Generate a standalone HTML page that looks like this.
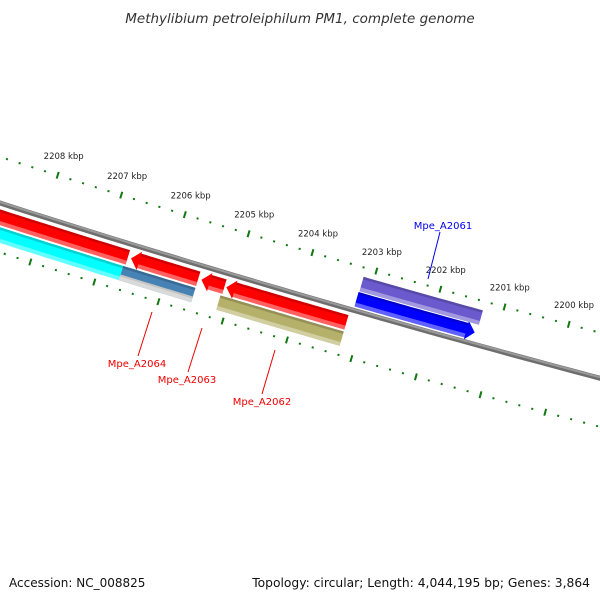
<!DOCTYPE html>
<html><head><meta charset="utf-8"><style>
html,body{margin:0;padding:0;background:#fff;}
svg{display:block;font-family:"DejaVu Sans","Liberation Sans",sans-serif;}
</style></head><body>
<svg id="map" width="600" height="600" viewBox="0 0 600 600">
<text x="300" y="23" text-anchor="middle" font-size="13.5" font-style="italic" fill="#333">Methylibium petroleiphilum PM1, complete genome</text>
<g id="ticks"></g>
<g id="backbone"></g>
<g id="features"></g>
<g id="labels"></g>
<text x="9" y="587" font-size="12" fill="#111">Accession: NC_008825</text>
<text x="590" y="587" text-anchor="end" font-size="12.3" fill="#111">Topology: circular; Length: 4,044,195 bp; Genes: 3,864</text>
</svg>
<script>
// feature data (kbp)
const featStart = [2210.5, 2206.58, 2205.48, 2205.09, 2205.14, 2206.66, 2210.5, 2203.17, 2203.16];
const featEnd   = [2206.63, 2205.53, 2205.12, 2203.22, 2203.22, 2205.53, 2206.66, 2201.33, 2201.30];
const featSlot  = [1, 1, 1, 1, 2, 2, 2, -1, -2];
const featColor = ['#ff0000','#ff0000','#ff0000','#ff0000','#b5b06a','#4682b4','#00ffff','#0000ff','#6a5acd'];
const featColor2= [null,null,null,null,null,'#c4c4c4',null,null,null];
const featArrow = ['start','start','start','start','none','none','none','end','none'];
const featNames = ['gene-a2065','gene-a2064','gene-a2063','gene-a2062','gene-a2062-cog','gene-a2064-cog','gene-a2065-cog','gene-a2061','gene-a2061-cog'];
const tickMajor = [2199,2200,2201,2202,2203,2204,2205,2206,2207,2208];
const tickLabels = ['2199 kbp','2200 kbp','2201 kbp','2202 kbp','2203 kbp','2204 kbp','2205 kbp','2206 kbp','2207 kbp','2208 kbp'];

const NS='http://www.w3.org/2000/svg';
const CX=3716, CY=-11413, R=12196;
function pt(r,p){const a=(105.01+(p-2200)*0.3138)*Math.PI/180;return [CX+r*Math.cos(a),CY+r*Math.sin(a)];}
function mk(tag,attrs,parent){const e=document.createElementNS(NS,tag);for(const k in attrs)e.setAttribute(k,attrs[k]);parent.appendChild(e);return e;}
function arcPts(r,p1,p2,n){const a=[];for(let i=0;i<=n;i++){a.push(pt(r,p1+(p2-p1)*i/n));}return a;}
function poly(pts){return 'M'+pts.map(q=>q[0].toFixed(2)+','+q[1].toFixed(2)).join('L')+'Z';}

// backbone
const bb=document.getElementById('backbone');
const bbp=arcPts(R,2212,2197,60);
const bbd='M'+bbp.map(q=>q[0].toFixed(1)+','+q[1].toFixed(1)).join('L');
let e=mk('path',{d:bbd,fill:'none',stroke:'#6e6e6e','stroke-width':5},bb);


e=mk('path',{d:bbd,fill:'none',stroke:'#9a9a9a','stroke-width':2,transform:'translate(0,-1)'},bb);



// ticks
const tg=document.getElementById('ticks');
const rings=[R-44,R+47];
for(const rr of rings){
  for(let k=0;k<=100;k++){
    const p=2212-k*0.2;
    const major=Math.abs(p-Math.round(p))<0.01;
    if(major){
      const a=pt(rr-3.5,p),b=pt(rr+3.5,p);
      e=mk('line',{x1:a[0],y1:a[1],x2:b[0],y2:b[1],stroke:'#117711','stroke-width':2},tg);
      
      
    } else {
      const a=pt(rr-1,p),b=pt(rr+1,p);
      e=mk('line',{x1:a[0],y1:a[1],x2:b[0],y2:b[1],stroke:'#117711','stroke-width':2},tg);
      
      
    }
  }
}
for(let i=0;i<tickMajor.length;i++){
  const q=pt(R-64,tickMajor[i]);
  e=mk('text',{x:q[0].toFixed(1),y:(q[1]+3).toFixed(1),'text-anchor':'middle','font-size':'8.5',fill:'#222'},tg);
  e.textContent=tickLabels[i];
  
  
}

// features
const fg=document.getElementById('features');
const slotIn={'-2':R-35,'-1':R-19,'1':R+6,'2':R+23};
const W=15, AH=0.13;
for(let i=0;i<featStart.length;i++){
  const rin=slotIn[featSlot[i]], rout=rin+W, rmid=rin+W/2;
  let s=featStart[i], en=featEnd[i];
  let bs=s, be=en;
  if(featArrow[i]==='start') bs=s-AH;
  if(featArrow[i]==='end') be=en+AH;
  let pts=arcPts(rin,bs,be,30);
  if(featArrow[i]==='end'){pts.push(pt(rin-2,be));pts.push(pt(rmid,en));pts.push(pt(rout+2,be));}
  pts=pts.concat(arcPts(rout,be,bs,30));
  if(featArrow[i]==='start'){pts.push(pt(rout+2,bs));pts.push(pt(rmid,s));pts.push(pt(rin-2,bs));}
  const g=mk('g',{},fg);
  
  
  e=mk('path',{d:poly(pts),fill:featColor[i]},g);
  
  
  if(featColor2[i]){
    const p2=arcPts(rin+9,bs,be,30).concat(arcPts(rout,be,bs,30));
    e=mk('path',{d:poly(p2),fill:featColor2[i]},g);
    
    
  }
  const top=arcPts(rin,bs,be,30).concat(arcPts(rin+2.5,be,bs,30));
  e=mk('path',{d:poly(top),fill:'#000','fill-opacity':0.18},g);
  
  
  const bot=arcPts(rout-4,bs,be,30).concat(arcPts(rout,be,bs,30));
  e=mk('path',{d:poly(bot),fill:'#fff','fill-opacity':0.38},g);
  
  
}

// labels
const lg=document.getElementById('labels');
const labText=['Mpe_A2064','Mpe_A2063','Mpe_A2062','Mpe_A2061'];
const labColor=['#ee0000','#ee0000','#ee0000','#0000ee'];
const labX=[137,187,262,443];
const labY=[367,383,405,229];
const lineFrom=[[152,312],[202,328],[275,350],[440,232]];
const lineTo=[[138,356],[188,372],[262,394],[428,279]];
for(let i=0;i<labText.length;i++){
  e=mk('line',{x1:lineFrom[i][0],y1:lineFrom[i][1],x2:lineTo[i][0],y2:lineTo[i][1],stroke:labColor[i],'stroke-width':1},lg);
  
  
  e=mk('text',{x:labX[i],y:labY[i],'text-anchor':'middle','font-size':'10',fill:labColor[i]},lg);
  e.textContent=labText[i];
  
  
}
</script>
</body></html>
